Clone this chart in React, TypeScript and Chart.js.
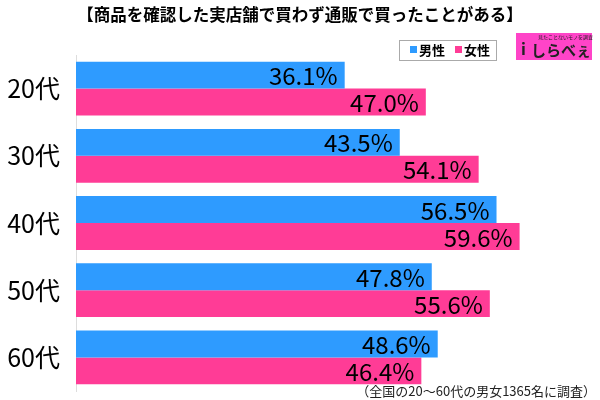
import React, { useEffect, useRef } from "react";
import { Chart, registerables } from "chart.js";

Chart.register(...registerables);

const categories = ["20代", "30代", "40代", "50代", "60代"];
const seriesNames = ["男性", "女性"];
const maleValues = [36.1, 43.5, 56.5, 47.8, 48.6];
const femaleValues = [47.0, 54.1, 59.6, 55.6, 46.4];
const titleText = "【商品を確認した実店舗で買わず通販で買ったことがある】";
const noteText = "（全国の20〜60代の男女1365名に調査）";
const logoText = "しらべぇ";

const BLUE = "#2E9BFF";
const PINK = "#FF3C96";
const FONT = '"Noto Sans CJK JP", "Noto Sans", sans-serif';

const decorPlugin = {
  id: "decor",
  afterDraw(chart: any) {
    const ctx = chart.ctx;
    ctx.save();
    // title
    ctx.fillStyle = "#000";
    ctx.font = `bold 16.5px ${FONT}`;
    ctx.textAlign = "center";
    ctx.textBaseline = "middle";
    ctx.fillText(titleText, 300, 15);
    // legend box
    ctx.strokeStyle = "#aaa";
    ctx.lineWidth = 1;
    ctx.strokeRect(399.5, 40.5, 97, 20);
    ctx.font = `bold 13px ${FONT}`;
    ctx.textAlign = "left";
    ctx.fillStyle = BLUE;
    ctx.fillRect(410, 46, 7, 7);
    ctx.fillStyle = "#000";
    ctx.fillText(seriesNames[0], 419, 50.5);
    ctx.fillStyle = PINK;
    ctx.fillRect(455, 46, 7, 7);
    ctx.fillStyle = "#000";
    ctx.fillText(seriesNames[1], 464, 50.5);
    // logo
    ctx.fillStyle = "#FF44C8";
    ctx.fillRect(516, 33, 76, 27);
    ctx.fillStyle = "#222";
    ctx.font = `bold 16px ${FONT}`;
    ctx.fillText("i", 521, 49);
    ctx.font = `bold 15px ${FONT}`;
    ctx.fillText(logoText, 531, 50);
    ctx.font = `5px ${FONT}`;
    ctx.fillText("見たことないモノを調査", 538, 37);
    // note
    ctx.font = `13px ${FONT}`;
    ctx.textAlign = "right";
    ctx.fillStyle = "#222";
    ctx.fillText(noteText, 596, 391);
    // data labels
    ctx.font = `24px ${FONT}`;
    ctx.fillStyle = "#000";
    ctx.textAlign = "right";
    chart.data.datasets.forEach((ds: any, di: number) => {
      const meta = chart.getDatasetMeta(di);
      meta.data.forEach((bar: any, i: number) => {
        ctx.fillText(ds.data[i].toFixed(1) + "%", bar.x - 7, bar.y + 1);
      });
    });
    ctx.restore();
  },
};

export default function App() {
  const ref = useRef<HTMLCanvasElement>(null);
  useEffect(() => {
    if (!ref.current) return;
    const chart = new Chart(ref.current, {
      type: "bar",
      data: {
        labels: categories,
        datasets: [
          { label: seriesNames[0], data: maleValues, backgroundColor: BLUE },
          { label: seriesNames[1], data: femaleValues, backgroundColor: PINK },
        ],
      },
      options: {
        indexAxis: "y",
        animation: false,
        responsive: false,
        layout: { padding: { top: 55, bottom: 9, right: 3, left: 0 } },
        datasets: { bar: { categoryPercentage: 0.8, barPercentage: 1 } },
        plugins: { legend: { display: false }, title: { display: false }, tooltip: { enabled: false } },
        scales: {
          x: { display: false, min: 0, max: 70 },
          y: {
            grid: { display: false },
            border: { display: true, color: "#ddd" },
            ticks: { color: "#000", font: { size: 25, family: FONT }, padding: 8 },
            afterFit(scale: any) {
              scale.width = 76;
              scale.paddingTop = 0;
              scale.paddingBottom = 0;
            },
          },
        },
      },
      plugins: [decorPlugin],
    } as any);
    return () => chart.destroy();
  }, []);
  return (
    <div style={{ position: "fixed", left: 0, top: 0, width: 600, height: 400, background: "#fff" }}>
      <canvas ref={ref} width={600} height={400} style={{ width: 600, height: 400 }} />
    </div>
  );
}
